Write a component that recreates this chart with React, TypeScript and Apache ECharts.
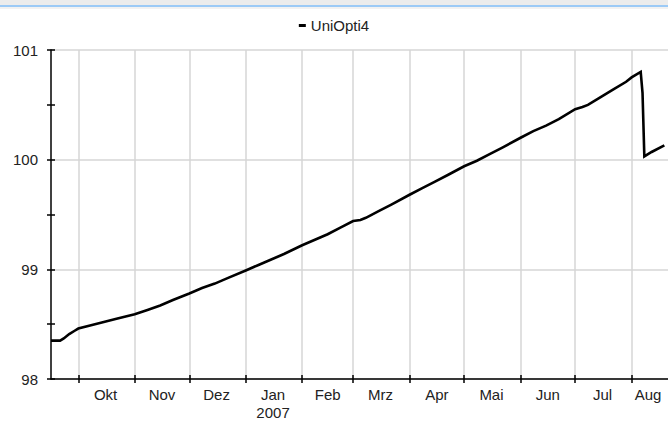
import React, { useEffect, useRef } from "react";
import * as echarts from "echarts";

const seriesName = "UniOpti4";

const dates = [
  "2006-09-16", "2006-09-21", "2006-09-23", "2006-09-26", "2006-09-29",
  "2006-10-01", "2006-10-08", "2006-10-15", "2006-10-22",
  "2006-11-01", "2006-11-08", "2006-11-15", "2006-11-22",
  "2006-12-01", "2006-12-08", "2006-12-15", "2006-12-22",
  "2007-01-01", "2007-01-08", "2007-01-15", "2007-01-22",
  "2007-02-01", "2007-02-08", "2007-02-15", "2007-02-22",
  "2007-03-01", "2007-03-05", "2007-03-08", "2007-03-15", "2007-03-22",
  "2007-04-01", "2007-04-08", "2007-04-15", "2007-04-22",
  "2007-05-01", "2007-05-08", "2007-05-15", "2007-05-22",
  "2007-06-01", "2007-06-08", "2007-06-15", "2007-06-22",
  "2007-07-01", "2007-07-05", "2007-07-08", "2007-07-15", "2007-07-22", "2007-07-29",
  "2007-08-01", "2007-08-06", "2007-08-07", "2007-08-08", "2007-08-12", "2007-08-19",
];

const values = [
  98.35, 98.35, 98.37, 98.41, 98.44,
  98.46, 98.49, 98.52, 98.55,
  98.59, 98.63, 98.67, 98.72,
  98.78, 98.83, 98.87, 98.92,
  98.99, 99.04, 99.09, 99.14,
  99.22, 99.27, 99.32, 99.38,
  99.44, 99.45, 99.47, 99.53, 99.59,
  99.68, 99.74, 99.8, 99.86,
  99.94, 99.99, 100.05, 100.11,
  100.2, 100.26, 100.31, 100.37,
  100.46, 100.48, 100.5, 100.57, 100.64, 100.71,
  100.75, 100.8, 100.61, 100.03, 100.07, 100.13,
];

const monthTickDates = [
  "2006-10-01", "2006-11-01", "2006-12-01", "2007-01-01", "2007-02-01", "2007-03-01",
  "2007-04-01", "2007-05-01", "2007-06-01", "2007-07-01", "2007-08-01",
];

const monthLabels = ["Okt", "Nov", "Dez", "Jan\n2007", "Feb", "Mrz", "Apr", "Mai", "Jun", "Jul", "Aug"];
const monthLabelDates = [
  "2006-10-16", "2006-11-16", "2006-12-16", "2007-01-16", "2007-02-15", "2007-03-16",
  "2007-04-16", "2007-05-16", "2007-06-16", "2007-07-16", "2007-08-10",
];

const xMinDate = "2006-09-16";
const xMaxDate = "2007-08-21";
const yMin = 98;
const yMax = 101;
const yStep = 1;

const ts = (s: string) => new Date(s + "T00:00:00Z").getTime();

export default function App() {
  const ref = useRef<HTMLDivElement>(null);
  useEffect(() => {
    document.body.style.margin = "0";
    const chart = echarts.init(ref.current!, null, { renderer: "svg" });
    const labelMap: Record<number, string> = {};
    monthLabelDates.forEach((d, i) => (labelMap[ts(d)] = monthLabels[i]));
    const font = "'Liberation Sans', Arial, sans-serif";
    const textColor = "#222";
    const gridColor = "#d6d6d6";
    const xCommon = {
      type: "value" as const,
      min: ts(xMinDate),
      max: ts(xMaxDate),
      position: "bottom" as const,
      scale: true,
    };
    const yCommon = {
      type: "value" as const,
      min: yMin,
      max: yMax,
      interval: yStep,
      position: "left" as const,
    };
    chart.setOption({
      animation: false,
      backgroundColor: "#fff",
      textStyle: { fontFamily: font },
      graphic: [
        { type: "rect", shape: { x: 0, y: 0, width: 668, height: 5 }, style: { fill: "#ececec" }, silent: true },
        { type: "rect", shape: { x: 0, y: 5, width: 668, height: 2 }, style: { fill: "#9ccaf6" }, silent: true },
        { type: "rect", shape: { x: 0, y: 7, width: 668, height: 2 }, style: { fill: "#f2f2f2" }, silent: true },
      ],
      legend: {
        show: true,
        left: "center",
        top: 13,
        icon: "rect",
        itemWidth: 7,
        itemHeight: 3,
        itemGap: 5,
        textStyle: { fontSize: 15, color: textColor, fontFamily: font },
        data: [seriesName],
      },
      grid: { left: 51, right: 0, top: 50, bottom: 38, containLabel: false },
      xAxis: [
        {
          ...xCommon,
          axisLine: { show: true, onZero: false, lineStyle: { color: "#000", width: 1.5 } },
          axisTick: {
            show: true,
            inside: false,
            length: 4,
            customValues: monthTickDates.map(ts),
            lineStyle: { color: "#000", width: 1.5 },
          },
          minorTick: { show: false },
          splitLine: { show: true, lineStyle: { color: gridColor, width: 1.5 } },
          axisLabel: {
            show: true,
            customValues: monthLabelDates.map(ts),
            formatter: (v: number) => labelMap[v] ?? "",
            fontSize: 15,
            color: textColor,
            fontFamily: font,
            margin: 6,
            lineHeight: 18,
            hideOverlap: false,
          },
        },
        {
          ...xCommon,
          axisLine: { show: false, onZero: false },
          axisTick: {
            show: true,
            inside: true,
            length: 4,
            customValues: monthTickDates.map(ts),
            lineStyle: { color: "#000", width: 1.5 },
          },
          splitLine: { show: false },
          axisLabel: { show: false },
        },
      ],
      yAxis: [
        {
          ...yCommon,
          axisLine: { show: true, onZero: false, lineStyle: { color: "#000", width: 1.5 } },
          axisTick: { show: true, inside: false, length: 4, lineStyle: { color: "#000", width: 1.5 } },
          minorTick: { show: true, splitNumber: 2, length: 4, lineStyle: { color: "#000", width: 1.5 } },
          splitLine: { show: true, lineStyle: { color: gridColor, width: 1.5 } },
          minorSplitLine: { show: false },
          axisLabel: { fontSize: 15, color: textColor, fontFamily: font, margin: 13 },
        },
        {
          ...yCommon,
          axisLine: { show: false, onZero: false },
          axisTick: { show: true, inside: true, length: 4, lineStyle: { color: "#000", width: 1.5 } },
          minorTick: { show: true, splitNumber: 2, length: 4, lineStyle: { color: "#000", width: 1.5 } },
          splitLine: { show: false },
          axisLabel: { show: false },
        },
      ],
      series: [
        {
          name: seriesName,
          type: "line",
          xAxisIndex: 0,
          yAxisIndex: 0,
          showSymbol: false,
          symbol: "none",
          lineStyle: { color: "#000", width: 2.6, join: "miter" },
          itemStyle: { color: "#000" },
          data: dates.map((d, i) => [ts(d), values[i]]),
        },
      ],
    });
    return () => chart.dispose();
  }, []);
  return <div ref={ref} style={{ position: "absolute", left: 0, top: 0, width: 668, height: 421 }} />;
}
